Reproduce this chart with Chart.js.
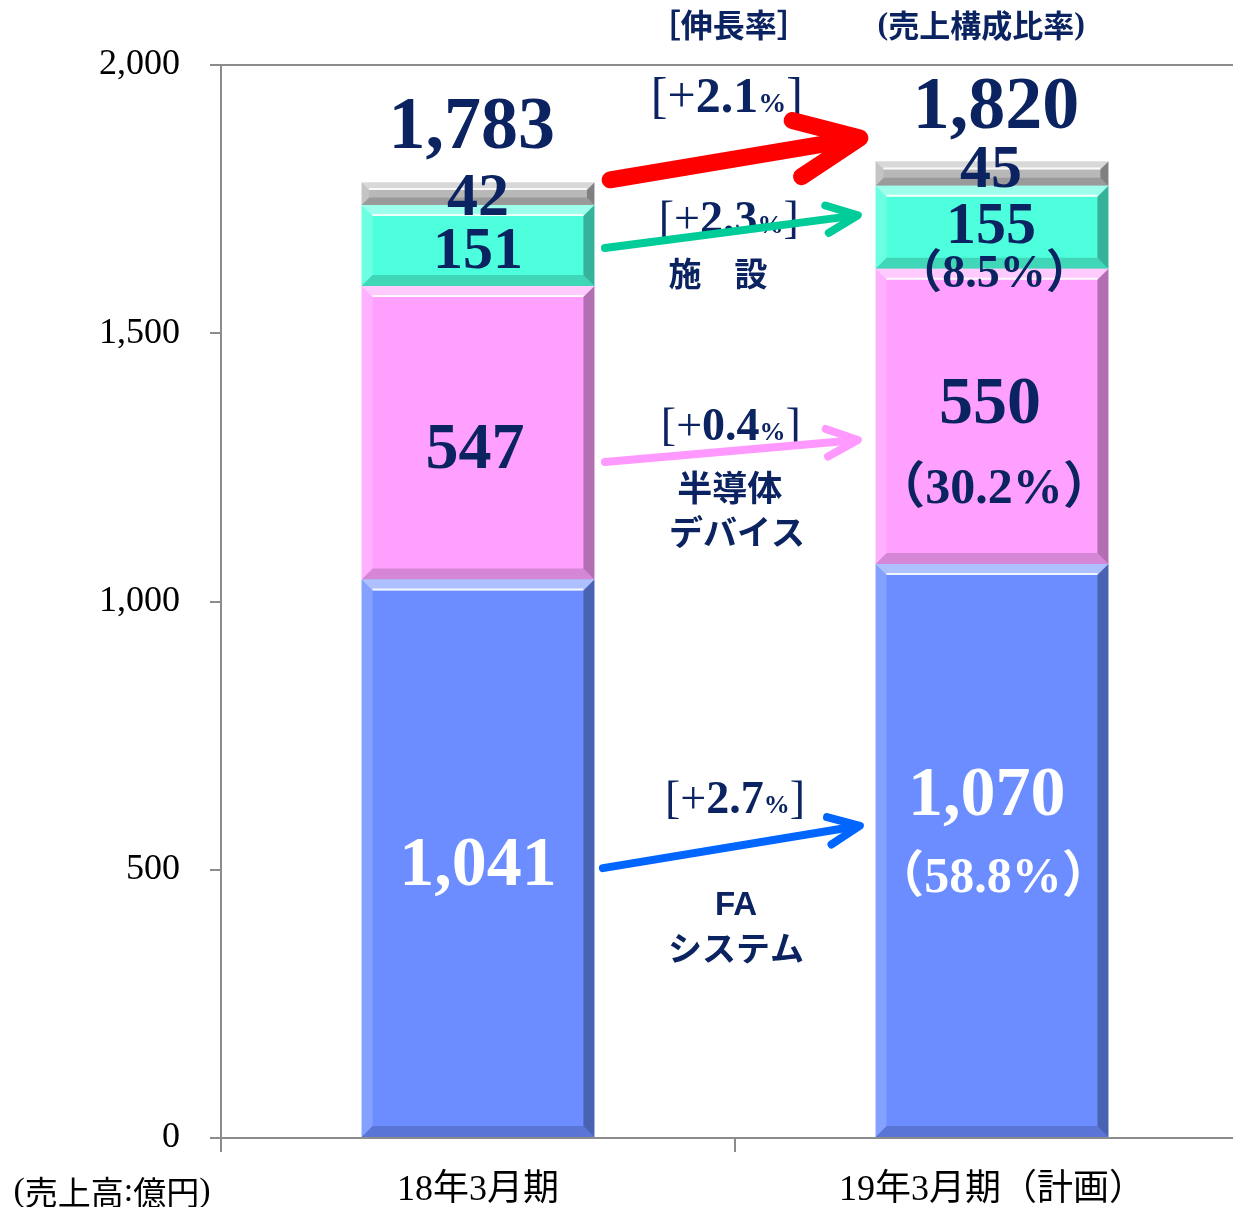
<!DOCTYPE html>
<html><head><meta charset="utf-8">
<script src="https://cdn.jsdelivr.net/npm/chart.js@4.4.0/dist/chart.umd.min.js"></script>
<style>html,body{margin:0;padding:0;overflow:hidden;background:#fff;width:1233px;height:1207px}canvas{display:block}</style>
</head><body>
<canvas id="c" width="1250" height="1207"></canvas>
<script>
// ---- data ----
const categories = ['18年3月期', '19年3月期（計画）'];
const faSystem = [1041, 1070];
const semiconductor = [547, 550];
const facility = [151, 155];
const other = [42, 45];
const totals = [1783, 1820];
const sharesFY19 = [58.8, 30.2, 8.5];   // FA, semiconductor, facility
const growthRates = [2.7, 0.4, 2.3];    // FA, semiconductor, facility
const totalGrowth = 2.1;
const yTicks = [0, 500, 1000, 1500, 2000];

// ---- styles ----
const NAVY = '#0b2461';
const SERIF = "'Liberation Serif','Times New Roman',serif";
const JP = "'Noto Sans CJK JP','Noto Sans CJK SC',sans-serif";
const fmt = v => v.toLocaleString('en-US');
const num = (t, s) => [{t, font: `bold ${s}px ${SERIF}`}];
const pct = (v, s) => [{t:'（', font:`bold ${s}px ${JP}`}, {t: v.toFixed(1) + '%', font:`bold ${s}px ${SERIF}`}, {t:'）', font:`bold ${s}px ${JP}`}];
const growth = (v, s) => [{t:'[', font:`${s}px ${SERIF}`}, {t:'+', font:`${s}px ${SERIF}`}, {t:v.toFixed(1), font:`bold ${s}px ${SERIF}`}, {t:'%', font:`bold ${Math.round(s*0.56)}px ${SERIF}`}, {t:']', font:`${s}px ${SERIF}`}];
const jp = (t, s) => [{t, font:`bold ${s}px ${JP}`}];

// annotation placements (category index units, value units)
const labels = [
  {x:-0.012, v:1845, segs:num(fmt(totals[0]),74), c:NAVY},
  {x:0, v:1720, segs:num(fmt(other[0]),62), c:NAVY},
  {x:0, v:1622, segs:num(fmt(facility[0]),60), c:NAVY},
  {x:-0.006, v:1249, segs:num(fmt(semiconductor[0]),66), c:NAVY},
  {x:0, v:472, segs:num(fmt(faSystem[0]),70), c:'#ffffff'},
  {x:1.008, v:1883, segs:num(fmt(totals[1]),74), c:NAVY},
  {x:0.998, v:1773, segs:num(fmt(other[1]),62), c:NAVY},
  {x:0.998, v:1668, segs:num(fmt(facility[1]),60), c:NAVY},
  {x:1.004, v:1586, segs:pct(sharesFY19[2],46), c:NAVY},
  {x:0.996, v:1333, segs:num(fmt(semiconductor[1]),68), c:NAVY},
  {x:1.004, v:1184, segs:pct(sharesFY19[1],50), c:NAVY},
  {x:0.99, v:602, segs:num(fmt(faSystem[1]),70), c:'#ffffff'},
  {x:1.002, v:459, segs:pct(sharesFY19[0],50), c:'#ffffff'},
  {x:0.484, v:1912, segs:growth(totalGrowth,50), c:NAVY},
  {x:0.488, v:1687, segs:growth(growthRates[2],46), c:NAVY},
  {x:0.492, v:1301, segs:growth(growthRates[1],46), c:NAVY},
  {x:0.5, v:606, segs:growth(growthRates[0],46), c:NAVY},
  {x:0.488, v:2074, segs:jp('［伸長率］',32), c:NAVY, mid:true},
  {x:0.979, v:2074, segs:[{t:'(', font:`bold 32px ${SERIF}`},{t:'売上構成比率', font:`bold 31px ${JP}`},{t:')', font:`bold 32px ${SERIF}`}], c:NAVY, mid:true},
  {x:0.467, v:1612, segs:jp('施　設',33), c:NAVY, mid:true},
  {x:0.49, v:1212, segs:jp('半導体',35), c:NAVY, mid:true},
  {x:0.504, v:1130, segs:jp('デバイス',34), c:NAVY, mid:true},
  {x:0.502, v:432, segs:[{t:'FA', font:`bold 33px 'Liberation Sans',Arial,sans-serif`}], c:NAVY, mid:true},
  {x:0.502, v:354, segs:jp('システム',34), c:NAVY, mid:true},
];
const arrows = [
  {from:[0.257,1786], to:[0.743,1864], color:'#ff0000', w:17, head:70},
  {from:[0.247,1659], to:[0.739,1720], color:'#00cc99', w:8, head:34},
  {from:[0.247,1260], to:[0.739,1301], color:'#ff99ff', w:8, head:34},
  {from:[0.243,503], to:[0.743,582], color:'#0066ff', w:8, head:34},
];

function drawRich(ctx, segs, cx, y, color, mid) {
  let total = 0;
  segs.forEach(s => { ctx.font = s.font; s.w = ctx.measureText(s.t).width; total += s.w; });
  let x = cx - total / 2;
  ctx.fillStyle = color; ctx.textAlign = 'left';
  ctx.textBaseline = mid ? 'middle' : 'alphabetic';
  segs.forEach(s => { ctx.font = s.font; ctx.fillText(s.t, x, y); x += s.w; });
}

const bevelPlugin = {
  id: 'bevel',
  afterDatasetsDraw(chart) {
    const ctx = chart.ctx;
    const poly = (pts, fill) => { ctx.beginPath(); ctx.moveTo(pts[0][0], pts[0][1]); pts.slice(1).forEach(p => ctx.lineTo(p[0], p[1])); ctx.closePath(); ctx.fillStyle = fill; ctx.fill(); };
    ctx.save();
    chart.data.datasets.forEach((ds, di) => {
      chart.getDatasetMeta(di).data.forEach(bar => {
        const {x, y, base, width} = bar.getProps(['x','y','base','width'], true);
        const l = x - width/2, r = x + width/2, t = Math.min(y, base), b = Math.max(y, base);
        const e = Math.min(11, (b - t) / 3);
        poly([[l,t],[r,t],[r-e,t+e],[l+e,t+e]], 'rgba(255,255,255,0.45)');
        poly([[l,b],[r,b],[r-e,b-e],[l+e,b-e]], 'rgba(0,0,0,0.16)');
        poly([[l,t],[l+e,t+e],[l+e,b-e],[l,b]], 'rgba(255,255,255,0.18)');
        poly([[r,t],[r-e,t+e],[r-e,b-e],[r,b]], 'rgba(0,0,0,0.30)');
        ctx.strokeStyle = 'rgba(255,255,255,0.85)'; ctx.lineWidth = 2;
        ctx.beginPath(); ctx.moveTo(l+e, t+e-1); ctx.lineTo(r-e, t+e-1); ctx.stroke();
      });
    });
    ctx.restore();
  }
};

const annotPlugin = {
  id: 'annot',
  afterDraw(chart) {
    const ctx = chart.ctx, xs = chart.scales.x, ys = chart.scales.y;
    const p0 = xs.getPixelForValue(0), p1 = xs.getPixelForValue(1);
    const px = i => p0 + i * (p1 - p0);
    ctx.save();
    labels.forEach(L => drawRich(ctx, L.segs, px(L.x), ys.getPixelForValue(L.v), L.c, L.mid));
    arrows.forEach(A => {
      const x0 = px(A.from[0]), y0 = ys.getPixelForValue(A.from[1]);
      const x1 = px(A.to[0]), y1 = ys.getPixelForValue(A.to[1]);
      const ang = Math.atan2(y0 - y1, x0 - x1), d = 24 * Math.PI / 180;
      ctx.strokeStyle = A.color; ctx.lineWidth = A.w; ctx.lineCap = 'round'; ctx.lineJoin = 'round';
      ctx.beginPath(); ctx.moveTo(x0, y0); ctx.lineTo(x1 + Math.cos(ang) * A.w * 0.4, y1 + Math.sin(ang) * A.w * 0.4); ctx.stroke();
      ctx.beginPath();
      ctx.moveTo(x1 + Math.cos(ang + d) * A.head, y1 + Math.sin(ang + d) * A.head);
      ctx.lineTo(x1, y1);
      ctx.lineTo(x1 + Math.cos(ang - d) * A.head, y1 + Math.sin(ang - d) * A.head);
      ctx.stroke();
    });
    drawRich(ctx, [{t:'(', font:`34px ${SERIF}`},{t:'売上高', font:`33px ${JP}`},{t:':', font:`34px ${SERIF}`},{t:'億円', font:`33px ${JP}`},{t:')', font:`34px ${SERIF}`}], 112, 1192, '#000', true);
    ctx.restore();
  }
};

new Chart(document.getElementById('c'), {
  type: 'bar',
  data: {
    labels: categories,
    datasets: [
      {label:'FAシステム', data: faSystem, backgroundColor:'#6b8dff'},
      {label:'半導体デバイス', data: semiconductor, backgroundColor:'#ffa0ff'},
      {label:'施設', data: facility, backgroundColor:'#4dffdc'},
      {label:'その他', data: other, backgroundColor:'#b8b8b8'},
    ].map(d => Object.assign(d, {barPercentage:0.453, categoryPercentage:1, borderWidth:0}))
  },
  options: {
    responsive: false, animation: false,
    layout: {padding: {top: 65, left: 0, right: 1, bottom: 0}},
    plugins: {legend: {display: false}, tooltip: {enabled: false}},
    scales: {
      x: {
        stacked: true,
        grid: {offset: true, drawOnChartArea: false, tickLength: 14, color: '#8c8c8c', lineWidth: 2},
        border: {color: '#8c8c8c', width: 2},
        ticks: {font: {family: "'Liberation Serif','Noto Sans CJK JP',serif", size: 36}, color: '#000', padding: 17, maxRotation: 0},
        afterFit(s) { s.height = 69; }
      },
      y: {
        stacked: true, min: 0, max: 2000,
        afterBuildTicks(s) { s.ticks = yTicks.map(v => ({value: v})); },
        ticks: {callback: v => fmt(v), font: {family: SERIF, size: 36}, color: '#000', padding: 30},
        grid: {color: c => (c.tick && c.tick.value === 2000) ? '#8c8c8c' : 'rgba(0,0,0,0)', tickColor: '#8c8c8c', lineWidth: 2, tickLength: 11},
        border: {color: '#8c8c8c', width: 2},
        afterFit(s) { s.width = 221; }
      }
    }
  },
  plugins: [bevelPlugin, annotPlugin]
});
</script>
</body></html>
